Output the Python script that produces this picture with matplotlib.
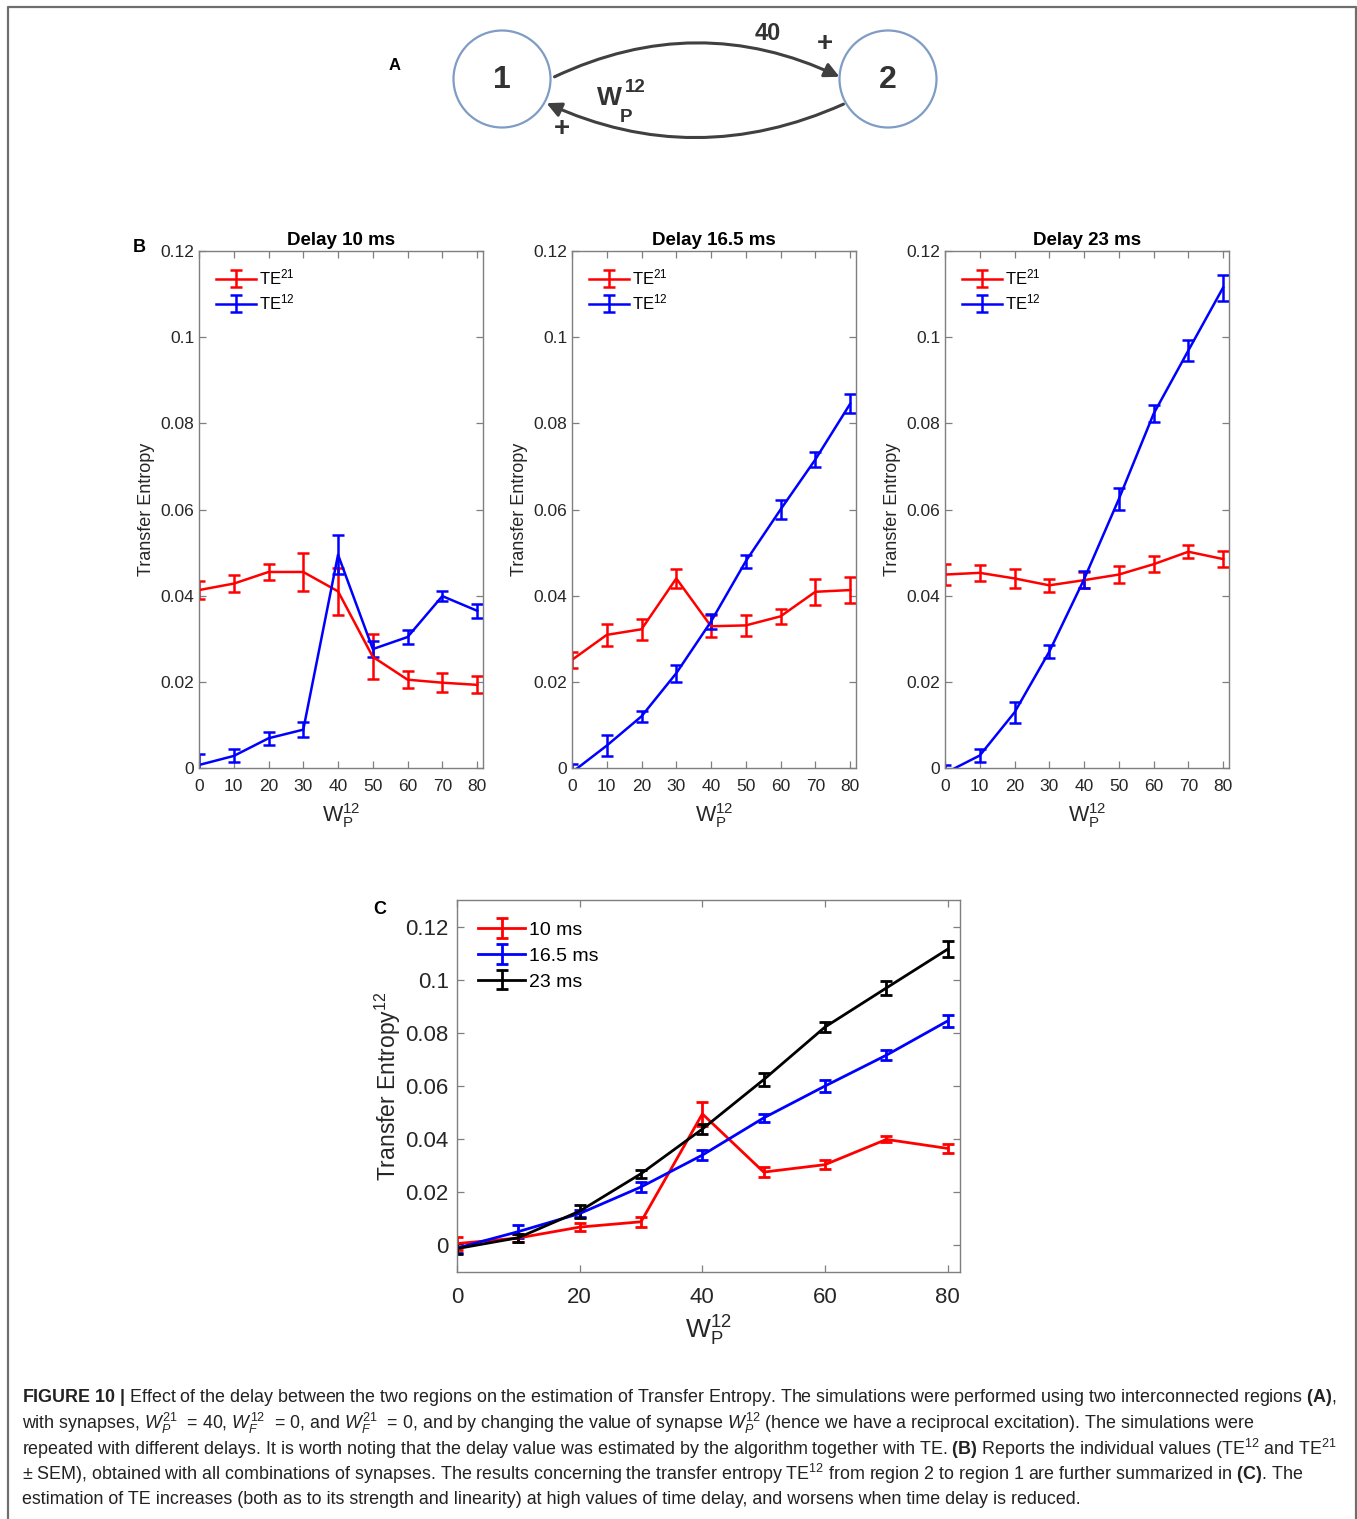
import matplotlib
matplotlib.use("Agg")
import matplotlib.pyplot as plt
from matplotlib.patches import Circle, FancyArrowPatch
from matplotlib.ticker import FormatStrFormatter, MultipleLocator

plt.rcParams["font.family"] = ["Liberation Sans", "DejaVu Sans"]
plt.rcParams["mathtext.fontset"] = "custom"
plt.rcParams["mathtext.rm"] = "Liberation Sans"
plt.rcParams["mathtext.it"] = "Liberation Sans:italic"
plt.rcParams["mathtext.bf"] = "Liberation Sans:bold"

# ── Data ────────────────────────────────────────────────────────────────────
w12 = [0, 10, 20, 30, 40, 50, 60, 70, 80]

delays = ["10 ms", "16.5 ms", "23 ms"]

te21_10 = [0.0413, 0.0428, 0.0455, 0.0455, 0.0410, 0.0258, 0.0205, 0.0198, 0.0193]
te21_10_err = [0.0020, 0.0020, 0.0018, 0.0044, 0.0055, 0.0052, 0.0020, 0.0022, 0.0020]
te12_10 = [0.0007, 0.0028, 0.0069, 0.0089, 0.0495, 0.0276, 0.0304, 0.0399, 0.0365]
te12_10_err = [0.0026, 0.0015, 0.0015, 0.0018, 0.0045, 0.0018, 0.0017, 0.0011, 0.0016]

te21_16 = [0.0251, 0.0309, 0.0322, 0.0440, 0.0329, 0.0331, 0.0352, 0.0409, 0.0413]
te21_16_err = [0.0018, 0.0025, 0.0025, 0.0023, 0.0025, 0.0025, 0.0018, 0.0030, 0.0030]
te12_16 = [-0.0010, 0.0052, 0.0120, 0.0220, 0.0340, 0.0480, 0.0600, 0.0716, 0.0845]
te12_16_err = [0.0020, 0.0025, 0.0013, 0.0020, 0.0018, 0.0015, 0.0022, 0.0018, 0.0022]

te21_23 = [0.0449, 0.0453, 0.0440, 0.0424, 0.0436, 0.0449, 0.0473, 0.0502, 0.0485]
te21_23_err = [0.0025, 0.0018, 0.0022, 0.0015, 0.0018, 0.0020, 0.0018, 0.0015, 0.0018]
te12_23 = [-0.0012, 0.0029, 0.0129, 0.0270, 0.0438, 0.0624, 0.0822, 0.0969, 0.1115]
te12_23_err = [0.0020, 0.0015, 0.0025, 0.0015, 0.0020, 0.0025, 0.0020, 0.0025, 0.0030]

caption_lines = [
    r"$\mathbf{FIGURE\ 10\ |}$ Effect of the delay between the two regions on the estimation of Transfer Entropy. "
    r"The simulations were performed using two interconnected regions $\mathbf{(A)}$,",
    r"with synapses, $W_P^{21}$  = 40, $W_F^{12}$  = 0, and $W_F^{21}$  = 0, and by changing the value of synapse "
    r"$W_P^{12}$ (hence we have a reciprocal excitation). The simulations were",
    r"repeated with different delays. It is worth noting that the delay value was estimated by the algorithm "
    r"together with TE. $\mathbf{(B)}$ Reports the individual values (TE$^{12}$ and TE$^{21}$",
    r"± SEM), obtained with all combinations of synapses. The results concerning the transfer entropy "
    r"TE$^{12}$ from region 2 to region 1 are further summarized in $\mathbf{(C)}$. The",
    r"estimation of TE increases (both as to its strength and linearity) at high values of time delay, "
    r"and worsens when time delay is reduced.",
]

RED, BLUE, BLACK = "#ff0000", "#0000ff", "#000000"
AXCOL = "#7f7f7f"
TXT = "#262626"
W_LABEL = r"$\mathrm{W}_\mathrm{P}^{12}$"


def style_axes(ax, tick_size):
    for sp in ax.spines.values():
        sp.set_color(AXCOL)
        sp.set_linewidth(1.0)
    ax.tick_params(direction="in", length=5, width=0.9, color=AXCOL,
                   labelcolor=TXT, labelsize=tick_size,
                   top=True, right=True)
    ax.yaxis.set_major_formatter(FormatStrFormatter("%g"))


def eb(ax, y, err, color, label, lw=1.8, cap=4):
    ax.errorbar(w12, y, yerr=err, color=color, lw=lw, elinewidth=lw,
                capsize=cap, capthick=lw, label=label)


fig = plt.figure(figsize=(13.57, 15.19), dpi=100, facecolor="white")

# ── Overlay (border, panel A, caption) in pixel coordinates ────────────────
ov = fig.add_axes([0, 0, 1, 1], zorder=-1)
ov.set_xlim(0, 1357)
ov.set_ylim(1519, 0)
ov.axis("off")
ov.plot([8, 8, 1356, 1356], [1519, 7, 7, 1519], color="#6e6e6e", lw=1.6)

DARK = "#333333"
for cx, lab in [(502, "1"), (888, "2")]:
    ov.add_patch(Circle((cx, 79), 48.5, fill=False, ec="#7f9cc4", lw=1.6))
    ov.text(cx, 80, lab, fontsize=23, fontweight="bold", color=DARK,
            ha="center", va="center")

ov.add_patch(FancyArrowPatch((552, 78), (842, 78), connectionstyle="arc3,rad=-0.24",
                             arrowstyle="-|>", mutation_scale=22, color="#404040", lw=2.2))
ov.add_patch(FancyArrowPatch((846, 103), (544, 102), connectionstyle="arc3,rad=-0.23",
                             arrowstyle="-|>", mutation_scale=22, color="#404040", lw=2.2))
ov.text(768, 33, "40", fontsize=17, fontweight="bold", color=DARK, ha="center", va="center")
ov.text(825, 44, "+", fontsize=20, fontweight="bold", color=DARK, ha="center", va="center")
ov.text(562, 129, "+", fontsize=20, fontweight="bold", color=DARK, ha="center", va="center")
ov.text(609, 98, "W", fontsize=19, fontweight="bold", color=DARK, ha="center", va="center")
ov.text(635, 87, "12", fontsize=13.5, fontweight="bold", color=DARK, ha="center", va="center")
ov.text(626, 117, "P", fontsize=13.5, fontweight="bold", color=DARK, ha="center", va="center")
ov.text(395, 65, "A", fontsize=12, fontweight="bold", ha="center", va="center")
ov.text(139, 247, "B", fontsize=13, fontweight="bold", ha="center", va="center")
ov.text(380, 910, "C", fontsize=13, fontweight="bold", ha="center", va="center")

for i, line in enumerate(caption_lines):
    ov.text(22, 1398 + i * 25.3, line, fontsize=12.9, color="#222222", ha="left", va="center")

# ── Panel B ─────────────────────────────────────────────────────────────────
b_series = [
    ("Delay 10 ms", te21_10, te21_10_err, te12_10, te12_10_err),
    ("Delay 16.5 ms", te21_16, te21_16_err, te12_16, te12_16_err),
    ("Delay 23 ms", te21_23, te21_23_err, te12_23, te12_23_err),
]
for k, (title, r, re, b, be) in enumerate(b_series):
    left = [199, 572, 945][k] / 1357
    ax = fig.add_axes([left, 1 - 768 / 1519, 284 / 1357, 517 / 1519])
    eb(ax, r, re, RED, r"TE$^{21}$")
    eb(ax, b, be, BLUE, r"TE$^{12}$")
    ax.set_xlim(0, 81.7)
    ax.set_ylim(0, 0.12)
    ax.xaxis.set_major_locator(MultipleLocator(10))
    ax.yaxis.set_major_locator(MultipleLocator(0.02))
    style_axes(ax, 12.5)
    ax.tick_params(axis="x", pad=8)
    ax.set_title(title, fontsize=13.5, fontweight="bold", pad=4)
    ax.set_ylabel("Transfer Entropy", fontsize=13, color=TXT, labelpad=4)
    ax.set_xlabel(W_LABEL, fontsize=15.5, color=TXT, labelpad=5)
    ax.legend(loc="upper left", frameon=False, fontsize=12, handlelength=2.4,
              handletextpad=0.2, labelspacing=0.3, borderaxespad=0.6)

# ── Panel C ─────────────────────────────────────────────────────────────────
axc = fig.add_axes([457 / 1357, 1 - 1272 / 1519, 503 / 1357, 372 / 1519])
eb(axc, te12_10, te12_10_err, RED, delays[0], lw=2.0)
eb(axc, te12_16, te12_16_err, BLUE, delays[1], lw=2.0)
eb(axc, te12_23, te12_23_err, BLACK, delays[2], lw=2.0)
axc.set_xlim(0, 82)
axc.set_ylim(-0.01, 0.13)
axc.xaxis.set_major_locator(MultipleLocator(20))
axc.yaxis.set_major_locator(MultipleLocator(0.02))
style_axes(axc, 16)
axc.tick_params(axis="x", pad=11)
axc.tick_params(axis="y", pad=6)
axc.set_ylabel(r"Transfer Entropy$^{12}$", fontsize=16.5, color=TXT, labelpad=2)
axc.set_xlabel(W_LABEL, fontsize=19, color=TXT, labelpad=4)
axc.legend(loc="upper left", frameon=False, fontsize=14, handlelength=2.4,
           handletextpad=0.2, labelspacing=0.42, borderaxespad=0.7)

fig.savefig("out.png", dpi=100, facecolor="white")
